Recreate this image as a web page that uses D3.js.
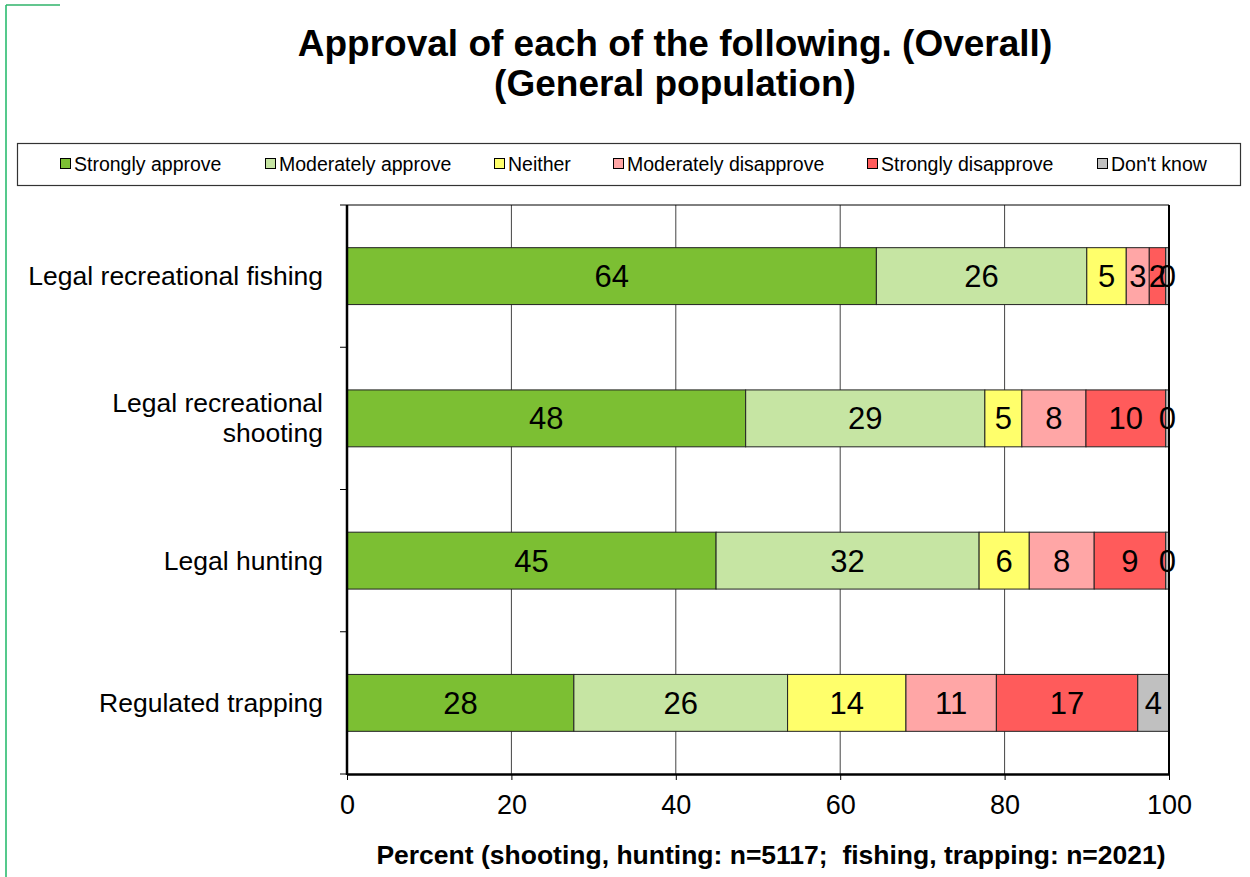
<!DOCTYPE html>
<html>
<head>
<meta charset="utf-8">
<script src="https://cdn.jsdelivr.net/npm/d3@7"></script>
<style>
  html, body { margin: 0; padding: 0; background: #fff; }
  svg { display: block; font-family: Arial, "Liberation Sans", sans-serif; }
</style>
</head>
<body>
<svg id="chart" width="1250" height="877"></svg>
<script>
// ---- Data ----
const categories = ["Legal recreational fishing", "Legal recreational shooting", "Legal hunting", "Regulated trapping"];
const categoryLines = [["Legal recreational fishing"], ["Legal recreational", "shooting"], ["Legal hunting"], ["Regulated trapping"]];
const seriesNames = ["Strongly approve", "Moderately approve", "Neither", "Moderately disapprove", "Strongly disapprove", "Don't know"];
const stronglyApprove     = [64.4, 48.5, 44.9, 27.6];
const moderatelyApprove   = [25.6, 29.1, 32.0, 26.0];
const neither             = [4.8, 4.5, 6.1, 14.4];
const moderatelyDisapprove= [2.8, 7.8, 7.9, 11.0];
const stronglyDisapprove  = [2.0, 9.7, 8.7, 17.2];
const dontKnow            = [0.4, 0.4, 0.4, 3.8];
const dataLabels = [[64, 26, 5, 3, 2, 0], [48, 29, 5, 8, 10, 0], [45, 32, 6, 8, 9, 0], [28, 26, 14, 11, 17, 4]];
const xTicks = [0, 20, 40, 60, 80, 100];
const titleLines = ["Approval of each of the following. (Overall)", "(General population)"];
const xAxisTitle = "Percent (shooting, hunting: n=5117;  fishing, trapping: n=2021)";
const seriesColors = ["#7cbf33", "#c6e5a3", "#ffff6b", "#ffa6a6", "#ff5b5b", "#c0c0c0"];

const seriesValues = [stronglyApprove, moderatelyApprove, neither, moderatelyDisapprove, stronglyDisapprove, dontKnow];

// ---- Layout ----
const svg = d3.select("#chart");
const plot = { left: 347, right: 1169, top: 205, bottom: 774 };

// Outer green frame
svg.append("line").attr("x1", 6).attr("x2", 6).attr("y1", 5).attr("y2", 877)
  .attr("stroke", "#55c98c").attr("stroke-width", 2);
svg.append("line").attr("x1", 6).attr("x2", 60).attr("y1", 5).attr("y2", 5)
  .attr("stroke", "#2fb36a").attr("stroke-width", 1.5);

// Title
svg.append("g").selectAll("text").data(titleLines).join("text")
  .attr("x", 675).attr("y", (d, i) => 56 + i * 40)
  .attr("text-anchor", "middle").attr("font-size", 37).attr("font-weight", "bold")
  .attr("fill", "#000").text(d => d);

// Legend
const legend = svg.append("g");
legend.append("rect").attr("x", 17.5).attr("y", 143.5).attr("width", 1223).attr("height", 42)
  .attr("fill", "#fff").attr("stroke", "#333").attr("stroke-width", 1.2);
const legendX = [60, 265, 494, 613, 867, 1097];
const lg = legend.selectAll("g.item").data(seriesNames).join("g").attr("class", "item")
  .attr("transform", (d, i) => `translate(${legendX[i]},164)`);
lg.append("rect").attr("x", 0.5).attr("y", -5.5).attr("width", 10).attr("height", 10)
  .attr("fill", (d, i) => seriesColors[i]).attr("stroke", "#000").attr("stroke-width", 1);
lg.append("text").attr("x", 14).attr("y", 7).attr("font-size", 19.5).attr("fill", "#000").text(d => d);

// Scales
const x = d3.scaleLinear().domain([0, 100]).range([plot.left, plot.right]);
const y = d3.scaleBand().domain(categories).range([plot.top, plot.bottom]).paddingInner(0.6).paddingOuter(0.3);
const yOuter = d3.scaleBand().domain(categories).range([plot.top, plot.bottom]);

// Gridlines
svg.append("g").selectAll("line").data(xTicks.filter(t => t > 0 && t < 100)).join("line")
  .attr("x1", d => x(d)).attr("x2", d => x(d)).attr("y1", plot.top).attr("y2", plot.bottom)
  .attr("stroke", "#444").attr("stroke-width", 1);

// Stack data
const rows = categories.map((c, ci) => {
  const o = { category: c, index: ci };
  seriesNames.forEach((s, si) => { o[s] = seriesValues[si][ci]; });
  return o;
});
const stack = d3.stack().keys(seriesNames)(rows);

const layers = svg.append("g").selectAll("g").data(stack).join("g")
  .attr("fill", (d, i) => seriesColors[i]);
layers.selectAll("rect").data(d => d).join("rect")
  .attr("x", d => x(d[0])).attr("width", d => x(d[1]) - x(d[0]))
  .attr("y", d => y(d.data.category)).attr("height", y.bandwidth())
  .attr("stroke", "#222").attr("stroke-width", 1);

// Data labels
const labelG = svg.append("g");
stack.forEach((layer, si) => {
  labelG.selectAll(null).data(layer).join("text")
    .attr("x", d => (x(d[0]) + x(d[1])) / 2)
    .attr("y", d => y(d.data.category) + y.bandwidth() / 2 + 11)
    .attr("text-anchor", "middle").attr("font-size", 31).attr("fill", "#000")
    .text(d => dataLabels[d.data.index][si]);
});

// Plot frame: right and top
svg.append("line").attr("x1", plot.left).attr("x2", plot.right).attr("y1", plot.top).attr("y2", plot.top)
  .attr("stroke", "#000").attr("stroke-width", 1);
svg.append("line").attr("x1", plot.right).attr("x2", plot.right).attr("y1", plot.top).attr("y2", plot.bottom)
  .attr("stroke", "#000").attr("stroke-width", 2);

// X axis
const xAxis = svg.append("g").attr("transform", `translate(0,${plot.bottom})`)
  .call(d3.axisBottom(x).tickValues(xTicks).tickSize(6).tickSizeOuter(0).tickPadding(15));
xAxis.select(".domain").attr("stroke", "#000").attr("stroke-width", 2.5);
xAxis.selectAll(".tick line").attr("stroke", "#000").attr("stroke-width", 1);
xAxis.selectAll(".tick text").attr("font-size", 27).attr("font-family", "Arial, 'Liberation Sans', sans-serif").attr("fill", "#000");

// Y axis (category boundaries as ticks)
const yBound = svg.append("g");
yBound.selectAll("line").data(categories.map(c => yOuter(c)).concat([plot.bottom])).join("line")
  .attr("x1", plot.left - 7).attr("x2", plot.left).attr("y1", d => d).attr("y2", d => d)
  .attr("stroke", "#000").attr("stroke-width", 1);
svg.append("line").attr("x1", plot.left).attr("x2", plot.left).attr("y1", plot.top).attr("y2", plot.bottom + 1)
  .attr("stroke", "#000").attr("stroke-width", 2.5);

// Category labels
const catG = svg.append("g").selectAll("text").data(categories).join("text")
  .attr("text-anchor", "end").attr("font-size", 26.5).attr("fill", "#000");
catG.each(function(c, i) {
  const lines = categoryLines[i];
  const cy = y(c) + y.bandwidth() / 2;
  const lh = 30;
  const start = cy - (lines.length - 1) * lh / 2 + 9;
  d3.select(this).selectAll("tspan").data(lines).join("tspan")
    .attr("x", 323).attr("y", (d, j) => start + j * lh).text(d => d);
});

// X axis title
svg.append("text").attr("x", 771).attr("y", 864).attr("text-anchor", "middle")
  .attr("xml:space", "preserve").style("white-space", "pre")
  .attr("font-size", 26.5).attr("font-weight", "bold").attr("fill", "#000").text(xAxisTitle);
</script>
</body>
</html>
